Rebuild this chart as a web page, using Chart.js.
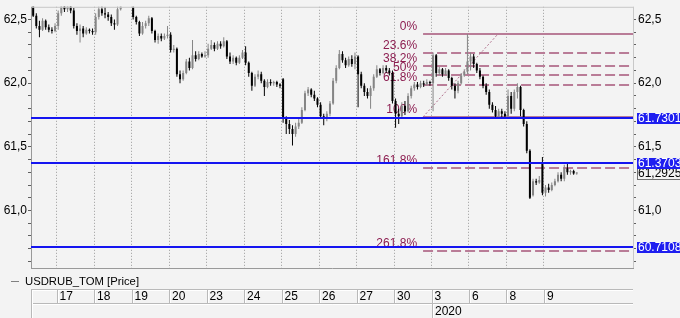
<!DOCTYPE html>
<html>
<head>
<meta charset="utf-8">
<script src="https://cdn.jsdelivr.net/npm/chart.js@4.4.1/dist/chart.umd.min.js"></script>
<style>
  html, body { margin: 0; padding: 0; background: #f3f3f3; }
  canvas { display: block; }
</style>
</head>
<body>
<canvas id="chart" width="680" height="318"></canvas>
<script>
// USDRUB_TOM hourly candles, 16 Dec 2019 (part) .. 9 Jan 2020, one row per day
var opens = [
  62.64,62.53,62.45,62.42,62.49,62.44,62.42,62.41,
  62.45,62.55,62.62,62.58,62.63,62.57,62.45,62.41,62.43,62.39,62.42,62.41,
  62.40,62.52,62.58,62.55,62.54,62.52,62.47,62.46,62.58,62.64,62.66,62.65,
  62.60,62.52,62.48,62.39,62.45,62.47,62.51,62.41,62.34,62.37,62.35,62.37,
  62.38,62.26,62.27,62.07,62.03,62.08,62.17,62.12,62.22,62.19,62.23,62.21,
  62.22,62.27,62.30,62.27,62.31,62.29,62.33,62.21,62.17,62.20,62.16,62.20,
  62.24,62.16,62.08,61.98,62.05,62.07,62.02,61.97,62.01,62.00,62.01,61.99,
  62.03,61.72,61.68,61.64,61.60,61.66,61.69,61.79,61.92,61.95,61.91,61.88,
  61.83,61.74,61.72,61.76,61.84,62.02,62.12,62.23,62.18,62.14,62.19,62.15,
  62.21,62.07,61.98,61.93,61.90,61.96,62.05,62.11,62.08,62.12,62.10,62.08,
  61.86,61.76,61.74,61.82,61.78,61.90,61.96,61.99,61.97,62.00,61.99,62.01,
  62.00,62.22,62.08,62.11,62.07,62.10,62.04,61.98,61.94,62.00,62.06,62.09,
  62.17,62.21,62.15,62.10,62.05,61.98,61.93,61.83,61.79,61.74,61.78,61.76,
  61.74,61.90,61.80,61.93,61.97,61.79,61.68,61.47,61.12,61.23,61.22,61.38,
  61.14,61.18,61.16,61.20,61.23,61.28,61.25,61.33,61.30,61.31,61.29
];
var highs = [
  62.66,62.55,62.49,62.51,62.50,62.46,62.44,62.47,
  62.57,62.66,62.66,62.67,62.66,62.59,62.47,62.46,62.45,62.44,62.43,62.43,
  62.55,62.62,62.61,62.60,62.56,62.54,62.50,62.62,62.68,62.70,62.69,62.67,
  62.62,62.53,62.49,62.48,62.49,62.53,62.52,62.42,62.39,62.39,62.39,62.45,
  62.40,62.30,62.28,62.10,62.10,62.19,62.20,62.34,62.25,62.25,62.24,62.25,
  62.31,62.34,62.32,62.33,62.33,62.36,62.34,62.24,62.22,62.21,62.22,62.26,
  62.29,62.17,62.09,62.07,62.10,62.09,62.03,62.03,62.03,62.02,62.02,62.00,
  62.04,61.74,61.71,61.67,61.69,61.72,61.81,61.94,61.97,61.96,61.94,61.89,
  61.85,61.76,61.78,61.86,62.04,62.14,62.26,62.25,62.20,62.21,62.22,62.24,
  62.22,62.09,62.00,61.96,61.98,62.07,62.14,62.12,62.14,62.14,62.12,62.10,
  61.88,61.80,61.85,61.86,61.92,61.98,62.01,62.01,62.02,62.02,62.03,62.02,
  62.24,62.23,62.13,62.12,62.12,62.11,62.05,62.00,62.02,62.08,62.11,62.387,
  62.24,62.23,62.16,62.12,62.06,62.00,61.95,61.85,61.82,61.80,61.80,61.78,
  61.95,61.93,61.95,62.00,61.98,61.80,61.70,61.48,61.25,61.25,61.27,61.42,
  61.20,61.21,61.22,61.25,61.30,61.30,61.36,61.37,61.32,61.32,61.30
];
var lows = [
  62.52,62.43,62.36,62.41,62.42,62.40,62.39,62.40,
  62.42,62.53,62.56,62.56,62.55,62.43,62.38,62.32,62.36,62.38,62.39,62.38,
  62.38,62.50,62.53,62.51,62.49,62.45,62.42,62.45,62.57,62.62,62.62,62.61,
  62.50,62.46,62.37,62.38,62.43,62.45,62.39,62.32,62.31,62.33,62.34,62.35,
  62.24,62.24,62.05,62.00,62.02,62.07,62.10,62.11,62.17,62.18,62.20,62.20,
  62.20,62.26,62.25,62.26,62.27,62.28,62.19,62.15,62.15,62.14,62.15,62.19,
  62.14,62.05,61.94,61.97,62.03,62.00,61.90,61.96,61.98,61.98,61.97,61.96,
  61.69,61.60,61.60,61.51,61.58,61.64,61.68,61.78,61.90,61.89,61.86,61.81,
  61.72,61.67,61.70,61.74,61.83,62.00,62.11,62.16,62.12,62.13,62.13,62.11,
  61.81,61.96,61.90,61.88,61.80,61.94,62.04,62.06,62.07,62.08,62.06,61.84,
  61.65,61.68,61.72,61.75,61.77,61.88,61.94,61.95,61.96,61.97,61.98,61.98,
  61.78,62.05,62.06,62.05,62.06,62.02,61.95,61.88,61.92,61.99,62.05,62.07,
  62.10,62.12,62.08,62.03,61.96,61.91,61.80,61.77,61.73,61.73,61.73,61.73,
  61.73,61.76,61.78,61.88,61.74,61.66,61.45,61.09,61.11,61.20,61.21,61.12,
  61.11,61.14,61.15,61.19,61.22,61.23,61.23,61.28,61.28,61.28,61.28
];
var closes = [
  62.53,62.45,62.42,62.49,62.44,62.42,62.41,62.45,
  62.55,62.62,62.58,62.63,62.57,62.45,62.41,62.43,62.39,62.42,62.41,62.40,
  62.52,62.58,62.55,62.54,62.52,62.47,62.46,62.58,62.64,62.66,62.65,62.63,
  62.52,62.48,62.39,62.45,62.47,62.51,62.41,62.34,62.37,62.35,62.37,62.38,
  62.26,62.27,62.07,62.03,62.08,62.17,62.12,62.22,62.19,62.23,62.21,62.22,
  62.27,62.30,62.27,62.31,62.29,62.33,62.21,62.17,62.20,62.16,62.20,62.24,
  62.16,62.08,61.98,62.05,62.07,62.02,61.97,62.01,62.00,62.01,61.99,61.98,
  61.72,61.68,61.64,61.60,61.66,61.69,61.79,61.92,61.95,61.91,61.88,61.83,
  61.74,61.72,61.76,61.84,62.02,62.12,62.23,62.18,62.14,62.19,62.15,62.21,
  62.07,61.98,61.93,61.90,61.96,62.05,62.11,62.08,62.12,62.10,62.08,61.86,
  61.76,61.74,61.82,61.78,61.90,61.96,61.99,61.97,62.00,61.99,62.01,62.00,
  62.22,62.08,62.11,62.07,62.10,62.04,61.98,61.94,62.00,62.06,62.09,62.17,
  62.21,62.15,62.10,62.05,61.98,61.93,61.83,61.79,61.74,61.78,61.76,61.74,
  61.90,61.80,61.93,61.97,61.79,61.68,61.47,61.10,61.23,61.22,61.24,61.14,
  61.18,61.16,61.20,61.23,61.28,61.25,61.33,61.30,61.31,61.29,61.2925
];

// x axis: candle slot where each day starts, and its label
var dayStarts = [8, 20, 32, 44, 56, 68, 80, 92, 104, 116, 128, 140, 152, 164];
var dayLabels = ['17', '18', '19', '20', '23', '24', '25', '26', '27', '30', '3', '6', '8', '9'];
var yearStarts = [128];
var yearLabels = ['2020'];

// y axis
var priceTicks = [60.6, 60.7, 60.8, 60.9, 61.0, 61.1, 61.2, 61.3, 61.4, 61.5,
                  61.6, 61.7, 61.8, 61.9, 62.0, 62.1, 62.2, 62.3, 62.4, 62.5];
var priceLabels = [61.0, 61.5, 62.0, 62.5];

// drawn objects
var fibHigh = 62.387, fibLow = 61.735;
var fibLevels = [0, 23.6, 38.2, 50, 61.8, 100, 161.8, 261.8];
var fibFrom = 125.3, fibTo = 149.3;
var hLines = [61.7301, 61.3703, 60.7108];
var seriesName = 'USDRUB_TOM [Price]';

var FONT = '"Liberation Sans", Arial, sans-serif';
Chart.defaults.font.family = FONT;
Chart.defaults.font.size = 12;
Chart.defaults.color = '#000';

var bodies = opens.map(function (o, i) { return { x: i + 0.5, y: [o, closes[i]] }; });
var wicks = lows.map(function (l, i) { return { x: i + 0.5, y: [l, highs[i]] }; });

function candleColor(c) {
  var i = c.dataIndex;
  return closes[i] >= opens[i] ? '#858585' : '#000000';
}

function priceLabel(v) {
  for (var k = 0; k < priceLabels.length; k++) {
    if (Math.abs(priceLabels[k] - v) < 1e-6) return v.toFixed(1).replace('.', ',');
  }
  return '';
}

function setPriceTicks(scale) {
  scale.ticks = priceTicks.map(function (v) { return { value: v }; });
}

var background = {
  id: 'background',
  beforeDraw: function (chart) {
    var ctx = chart.ctx;
    ctx.save();
    ctx.fillStyle = '#f3f3f3';
    ctx.fillRect(0, 0, chart.width, chart.height);
    ctx.restore();
  }
};

var fibonacci = {
  id: 'fibonacci',
  beforeDatasetsDraw: function (chart) {
    var ctx = chart.ctx, x = chart.scales.x, y = chart.scales.y, a = chart.chartArea;
    var x0 = x.getPixelForValue(fibFrom);
    ctx.save();
    ctx.beginPath();
    ctx.rect(a.left, a.top, a.right - a.left, a.bottom - a.top);
    ctx.clip();
    ctx.font = '12px ' + FONT;
    ctx.textAlign = 'right';
    ctx.textBaseline = 'bottom';
    fibLevels.forEach(function (p) {
      var py = Math.round(y.getPixelForValue(fibHigh - (fibHigh - fibLow) * p / 100));
      ctx.strokeStyle = '#b97c97';
      ctx.lineWidth = 2;
      ctx.setLineDash(p === 0 || p === 100 ? [] : [10, 4]);
      ctx.beginPath();
      ctx.moveTo(x0, py);
      ctx.lineTo(a.right, py);
      ctx.stroke();
      ctx.fillStyle = '#8c1d50';
      ctx.fillText(p + '%', x0 - 6, py - 1);
    });
    ctx.strokeStyle = '#b0708c';
    ctx.lineWidth = 1;
    ctx.setLineDash([2, 2]);
    ctx.beginPath();
    ctx.moveTo(x0, y.getPixelForValue(fibLow));
    ctx.lineTo(x.getPixelForValue(fibTo), y.getPixelForValue(fibHigh));
    ctx.stroke();
    ctx.restore();
  }
};

var overlay = {
  id: 'overlay',
  afterDatasetsDraw: function (chart) {
    var ctx = chart.ctx, x = chart.scales.x, y = chart.scales.y, a = chart.chartArea;
    ctx.save();
    // frame
    ctx.lineWidth = 1;
    ctx.strokeStyle = '#c8c8c8';
    ctx.beginPath();
    ctx.moveTo(a.left, a.top + 0.5); ctx.lineTo(a.right + 1, a.top + 0.5);
    ctx.moveTo(a.right + 0.5, a.top); ctx.lineTo(a.right + 0.5, a.bottom + 1);
    ctx.stroke();
    ctx.strokeStyle = '#999999';
    ctx.beginPath();
    ctx.moveTo(a.left + 0.5, a.top); ctx.lineTo(a.left + 0.5, a.bottom + 1);
    ctx.moveTo(a.left, a.bottom + 0.5); ctx.lineTo(a.right + 1, a.bottom + 0.5);
    ctx.stroke();

    // horizontal levels
    ctx.strokeStyle = '#1414f0';
    ctx.lineWidth = 2;
    hLines.forEach(function (v) {
      var py = Math.round(y.getPixelForValue(v));
      ctx.beginPath();
      ctx.moveTo(a.left, py);
      ctx.lineTo(a.right, py);
      ctx.stroke();
    });

    // right axis markers
    ctx.font = '12px ' + FONT;
    ctx.textAlign = 'left';
    ctx.textBaseline = 'middle';
    var last = closes[closes.length - 1];
    var ly = Math.round(y.getPixelForValue(last));
    ctx.fillStyle = '#f3f3f3';
    ctx.fillRect(a.right + 4, ly - 6, 50, 12);
    ctx.strokeStyle = '#707070';
    ctx.lineWidth = 1;
    ctx.strokeRect(a.right + 4.5, ly - 5.5, 50, 12);
    ctx.fillStyle = '#000';
    ctx.fillText(last.toFixed(4).replace('.', ','), a.right + 5, ly + 1);
    hLines.forEach(function (v) {
      var py = Math.round(y.getPixelForValue(v));
      ctx.fillStyle = '#1e1ef0';
      ctx.fillRect(a.right + 4, py - 5, 50, 11);
      ctx.fillStyle = '#ffffff';
      ctx.fillText(v.toFixed(4), a.right + 5, py + 1);
    });

    // legend
    ctx.strokeStyle = '#808080';
    ctx.beginPath();
    ctx.moveTo(11, a.bottom + 13.5);
    ctx.lineTo(19, a.bottom + 13.5);
    ctx.stroke();
    ctx.fillStyle = '#000';
    ctx.font = '11.3px ' + FONT;
    ctx.fillText(seriesName, 25, a.bottom + 14);

    // date band cells
    var top1 = a.bottom + 21, mid = top1 + 14, bot = chart.height;
    function vline(px, y1, y2) {
      ctx.strokeStyle = '#b9b9b9';
      ctx.beginPath(); ctx.moveTo(px + 0.5, y1); ctx.lineTo(px + 0.5, y2); ctx.stroke();
      ctx.strokeStyle = '#ffffff';
      ctx.beginPath(); ctx.moveTo(px + 1.5, y1 + 1); ctx.lineTo(px + 1.5, y2); ctx.stroke();
    }
    ctx.lineWidth = 1;
    [top1, mid].forEach(function (ry) {
      ctx.strokeStyle = '#b9b9b9';
      ctx.beginPath(); ctx.moveTo(a.left, ry + 0.5); ctx.lineTo(a.right, ry + 0.5); ctx.stroke();
      ctx.strokeStyle = '#ffffff';
      ctx.beginPath(); ctx.moveTo(a.left + 1, ry + 1.5); ctx.lineTo(a.right, ry + 1.5); ctx.stroke();
    });
    vline(a.left, top1, bot);
    dayStarts.forEach(function (d) { vline(Math.round(x.getPixelForValue(d)), top1, mid); });
    ctx.font = '12px ' + FONT;
    ctx.fillStyle = '#000';
    yearStarts.forEach(function (d, k) {
      var px = Math.round(x.getPixelForValue(d));
      vline(px, mid, bot);
      ctx.fillText(yearLabels[k], px + 3, (mid + bot) / 2 + 1);
    });
    ctx.restore();
  }
};

new Chart(document.getElementById('chart'), {
  type: 'bar',
  data: {
    datasets: [
      { data: bodies, backgroundColor: candleColor, barThickness: 2, minBarLength: 1,
        inflateAmount: 0, grouped: false, yAxisID: 'y' },
      { data: wicks, backgroundColor: candleColor, barThickness: 1,
        inflateAmount: 0, grouped: false, yAxisID: 'y' }
    ]
  },
  options: {
    responsive: false,
    animation: false,
    devicePixelRatio: 1,
    layout: { padding: { top: 5, left: 0, right: 0, bottom: 0 } },
    plugins: { legend: { display: false }, tooltip: { enabled: false } },
    scales: {
      x: {
        type: 'linear',
        position: 'bottom',
        min: -0.2,
        max: 192.5,
        offset: false,
        afterBuildTicks: function (scale) {
          scale.ticks = dayStarts.map(function (v) { return { value: v }; });
        },
        afterFit: function (scale) { scale.height = 50; },
        ticks: {
          autoSkip: false,
          maxRotation: 0,
          align: 'start',
          labelOffset: 3,
          padding: 21,
          color: '#000',
          font: { size: 12 },
          callback: function (v) {
            var k = dayStarts.indexOf(v);
            return k >= 0 ? dayLabels[k] : '';
          }
        },
        grid: { color: '#9a9a9a', lineWidth: 1, drawTicks: false, offset: false },
        border: { display: false, dash: [1, 2] }
      },
      y: {
        type: 'linear',
        position: 'left',
        min: 60.548,
        max: 62.6,
        beginAtZero: false,
        afterBuildTicks: setPriceTicks,
        afterFit: function (scale) { scale.width = 31; },
        ticks: { autoSkip: false, padding: 1, color: '#000',
                 font: { size: 12, lineHeight: 0.8 }, callback: priceLabel },
        grid: { drawOnChartArea: false, drawTicks: true, tickLength: 3, tickColor: '#606060' },
        border: { display: false }
      },
      y2: {
        type: 'linear',
        position: 'right',
        min: 60.548,
        max: 62.6,
        beginAtZero: false,
        afterBuildTicks: setPriceTicks,
        afterFit: function (scale) { scale.width = 47; },
        ticks: { autoSkip: false, padding: 2, color: '#000',
                 font: { size: 12, lineHeight: 0.8 }, callback: priceLabel },
        grid: { drawOnChartArea: false, drawTicks: true, tickLength: 3, tickColor: '#606060' },
        border: { display: false }
      }
    }
  },
  plugins: [background, fibonacci, overlay]
});
</script>
</body>
</html>
